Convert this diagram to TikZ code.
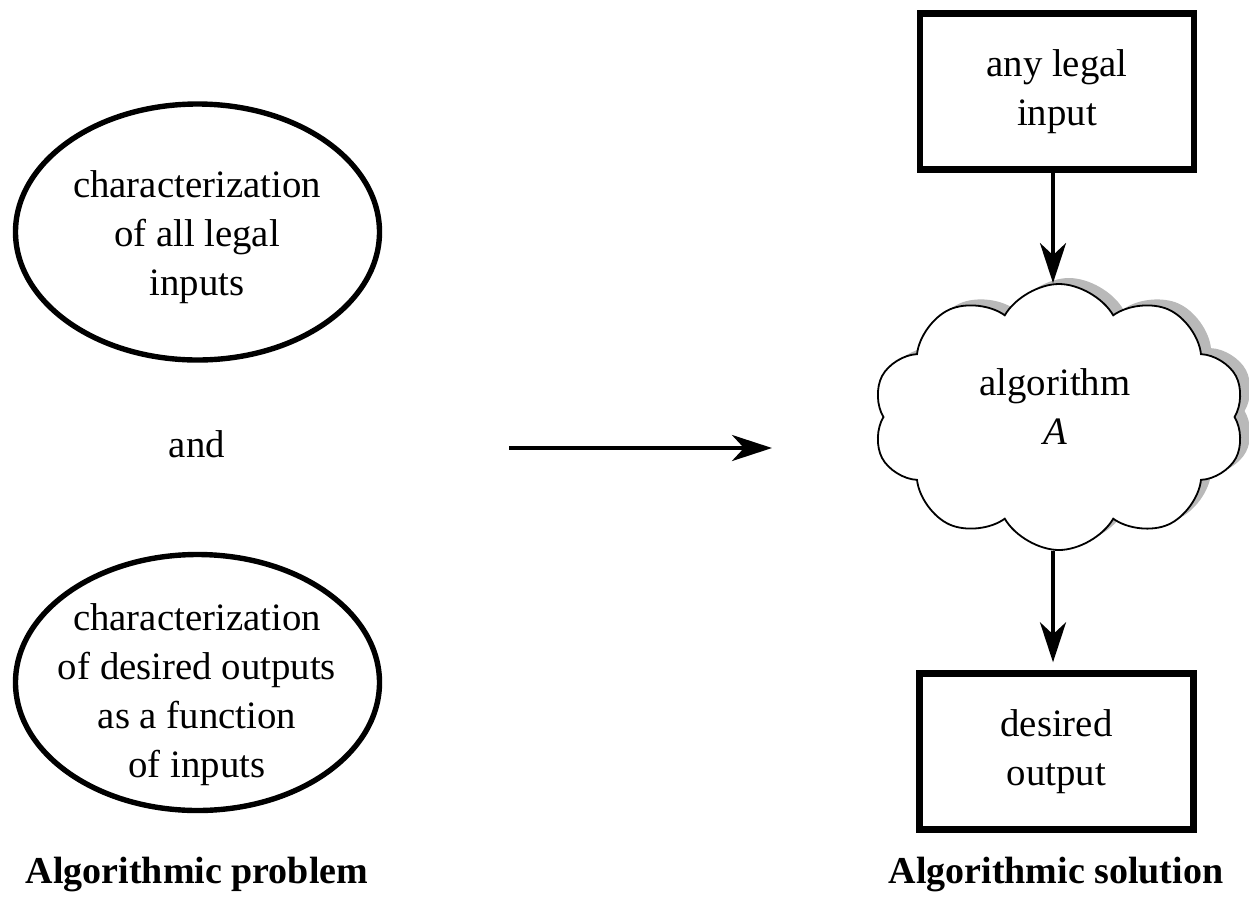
\documentclass[tikz,border=0pt]{standalone}
\usepackage{fontspec}
\setmainfont{Liberation Serif}
\usetikzlibrary{arrows.meta,shapes.geometric,shapes.symbols,shadows}

\tikzset{
  txt/.style={align=center, font=\fontsize{19.4}{24.5}\selectfont},
  ell/.style={draw, ellipse, line width=2.7pt, minimum width=182pt, minimum height=128pt, inner sep=0pt},
  box/.style={draw, rectangle, line width=3.2pt, minimum width=137pt, minimum height=78pt, txt},
  puff/.style={draw, cloud, cloud puffs=10, cloud puff arc=120, aspect=1.4,
    minimum width=186pt, minimum height=133pt, inner sep=0pt, fill=white, line width=0.9pt,
    drop shadow={shadow xshift=5pt, shadow yshift=3pt, fill=gray!55, opacity=1}},
  arr/.style={-{Stealth[length=20pt,width=13pt,inset=6pt]}, line width=2pt},
  caption/.style={font=\fontsize{19}{23}\selectfont\bfseries, anchor=base},
}

\begin{document}
\begin{tikzpicture}[x=0.5pt,y=-0.5pt]
  \useasboundingbox (0,0) rectangle (1249,896);
  % the problem
  \node[ell] (legal) at (197.5,232) {};
  \node[txt] (legaltext) at (197,237) {characterization\\of all legal\\inputs};
  \node[txt, anchor=base] (and) at (197,457) {and};
  \node[ell] (desired) at (197.5,682.5) {};
  \node[txt] (desiredtext) at (197,695) {characterization\\of desired outputs\\as a function\\of inputs};
  \node[caption] (problem) at (197,883) {Algorithmic problem};
  % from problem to solution
  \coordinate (from) at (509,448);
  \coordinate (to) at (772,448);
  \draw[arr] (from) -- (to);
  % the solution
  \node[box] (input) at (1057,91.5) {any legal\\input};
  \node[puff] (algo) at (1059,417) {};
  \node[txt] (algotext) at (1055,407) {algorithm\\\textit{A}};
  \node[box] (output) at (1056.5,751.5) {desired\\output};
  \node[caption] (solution) at (1056,883) {Algorithmic solution};
  \draw[arr] (input.south -| 1053,0) -- (algo.north -| 1053,0);
  \draw[arr, shorten >=4pt] (algo.south -| 1053,0) -- (output.north -| 1053,0);
\end{tikzpicture}
\end{document}
